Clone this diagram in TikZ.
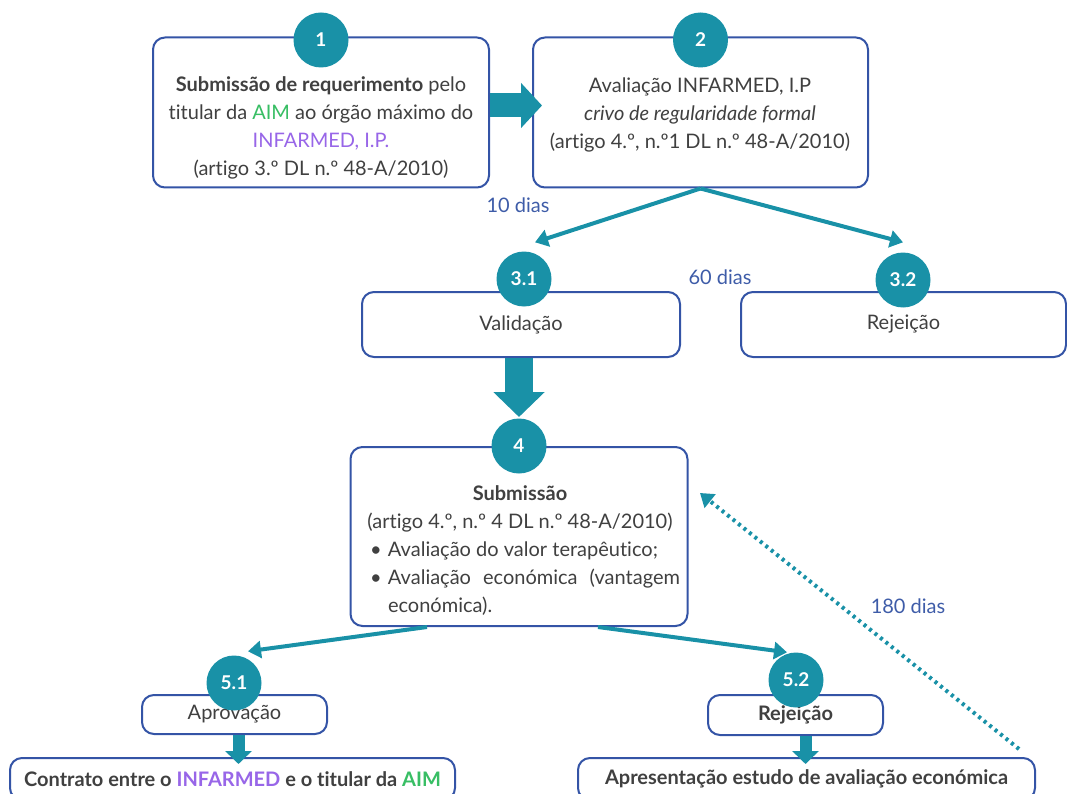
\documentclass[tikz,border=0pt]{standalone}
\usepackage{fontspec}
\setmainfont{Lato}[Ligatures=NoCommon]
\usetikzlibrary{arrows.meta,positioning}
\definecolor{stepteal}{RGB}{25,145,167}
\definecolor{boxblue}{RGB}{52,84,166}
\definecolor{inkgray}{RGB}{64,64,64}
\definecolor{aimgreen}{RGB}{56,190,100}
\definecolor{infpurple}{RGB}{152,102,232}
\definecolor{daysblue}{RGB}{62,92,168}
\begin{document}
\begin{tikzpicture}[x=1pt,y=-1pt,>={Triangle[length=13pt,width=17pt]},
  frame/.style={draw=boxblue,line width=2pt,rounded corners=12pt,fill=white,inner sep=0pt,text=inkgray,font=\fontsize{20}{28}\selectfont},
  badge/.style={circle,fill=stepteal,text=white,font=\bfseries\fontsize{19}{22}\selectfont,minimum size=55pt,inner sep=0pt},
  body/.style={text=inkgray,align=center,font=\fontsize{20}{28}\selectfont},
  days/.style={text=daysblue,font=\fontsize{20}{24}\selectfont}]
\useasboundingbox (0,0) rectangle (1067,794);
  \node[frame,minimum width=336pt,minimum height=150pt] (s1)  at (321,112.5)   {};
  \node[frame,minimum width=335pt,minimum height=150pt] (s2)  at (700.5,112.5) {};
  \node[frame,minimum width=318pt,minimum height=65pt]  (s31) at (521,324.5)   {Validação};
  \node[frame,minimum width=325pt,minimum height=65pt]  (s32) at (903.5,324.5) {Rejeição};
  \node[frame,minimum width=337pt,minimum height=179pt] (s4)  at (519,536.5)   {};
  \node[frame,minimum width=185pt,minimum height=39pt]  (s51) at (234.5,714.5) {Aprovação};
  \node[frame,minimum width=175pt,minimum height=40pt]  (s52) at (795.5,715)   {\textbf{Rejeição}};
  \node[frame,minimum width=445pt,minimum height=42pt]  (s6)  at (232.5,779)   {\textbf{Contrato entre o \textcolor{infpurple}{INFARMED} e o titular da \textcolor{aimgreen}{AIM}}};
  \node[frame,minimum width=457pt,minimum height=42pt]  (s7)  at (806.5,779)   {\textbf{Apresentação estudo de avaliação económica}};
  \node[body] (t1) at (321,128) {\textbf{Submissão de requerimento} pelo\\titular da \textcolor{aimgreen}{AIM} ao órgão máximo do\\\textcolor{infpurple}{INFARMED, I.P.}\\(artigo 3.º DL n.º 48-A/2010)};
  \node[body] (t2) at (700,115) {Avaliação INFARMED, I.P\\\textit{crivo de regularidade formal}\\(artigo 4.º, n.º1 DL n.º 48-A/2010)};
  \node[text=inkgray,font=\fontsize{20}{28}\selectfont,text width=320pt,align=justify,inner sep=0pt] (t4) at (520,551)
    {{\centering\textbf{Submissão}\\(artigo 4.º, n.º 4 DL n.º 48-A/2010)\par}
     \noindent\hangindent=28pt\hangafter=1\makebox[28pt][l]{\hspace{10pt}\textbullet}Avaliação do valor terapêutico;\par
     \noindent\hangindent=28pt\hangafter=1\makebox[28pt][l]{\hspace{10pt}\textbullet}Avaliação económica (vantagem\linebreak económica).\par};
  \coordinate (ret) at (700,493);
\tikzset{flow/.style={->,draw=stepteal,line width=4pt}}
\draw[draw=stepteal,line width=24pt,-{Triangle[length=21pt,width=44pt]}] ([yshift=7pt]s1.east) -- ([xshift=10pt,yshift=7pt]s2.west);
\draw[draw=stepteal,line width=28pt,-{Triangle[length=25pt,width=50pt]}] (s31.south -| 519,0) -- (519,417);
\draw[draw=stepteal,line width=12pt,-{Triangle[length=13pt,width=26pt]}] ([xshift=4pt]s51.south) -- ([xshift=4pt,yshift=-7pt]s51.south |- s6.north);
\draw[draw=stepteal,line width=12pt,-{Triangle[length=13pt,width=26pt]}] ([xshift=10pt]s52.south) -- ([xshift=10pt,yshift=-7pt]s52.south |- s7.north);
  \node[badge] (b1)  at (321,40)    {1};
  \node[badge] (b2)  at (700.5,40)  {2};
  \node[badge] (b31) at (524,279)   {3.1};
  \node[badge] (b32) at (903,280)   {3.2};
  \node[badge] (b4)  at (519,446)   {4};
  \node[badge] (b51) at (234,683)   {5.1};
  \node[badge] (b52) at (796,680)   {5.2};
\path
      (s2.south)                edge [flow] ([xshift=11pt,yshift=9pt]b31.north)
      (s2.south)                edge [flow] ([yshift=10pt]b32.north)
      ([xshift=-92pt]s4.south)  edge [flow] ([xshift=14pt,yshift=4pt]b51.north)
      ([xshift=79pt]s4.south)   edge [flow] ([xshift=-9pt]b52.north);
\draw[flow,dash pattern=on 3pt off 4pt] ([xshift=-17pt,yshift=8pt]s7.north east) -- (ret);
  \node[days] (d10)  at (518,205) {10 dias};
  \node[days] (d60)  at (720,277) {60 dias};
  \node[days] (d180) at (908,606) {180 dias};
\end{tikzpicture}
\end{document}
